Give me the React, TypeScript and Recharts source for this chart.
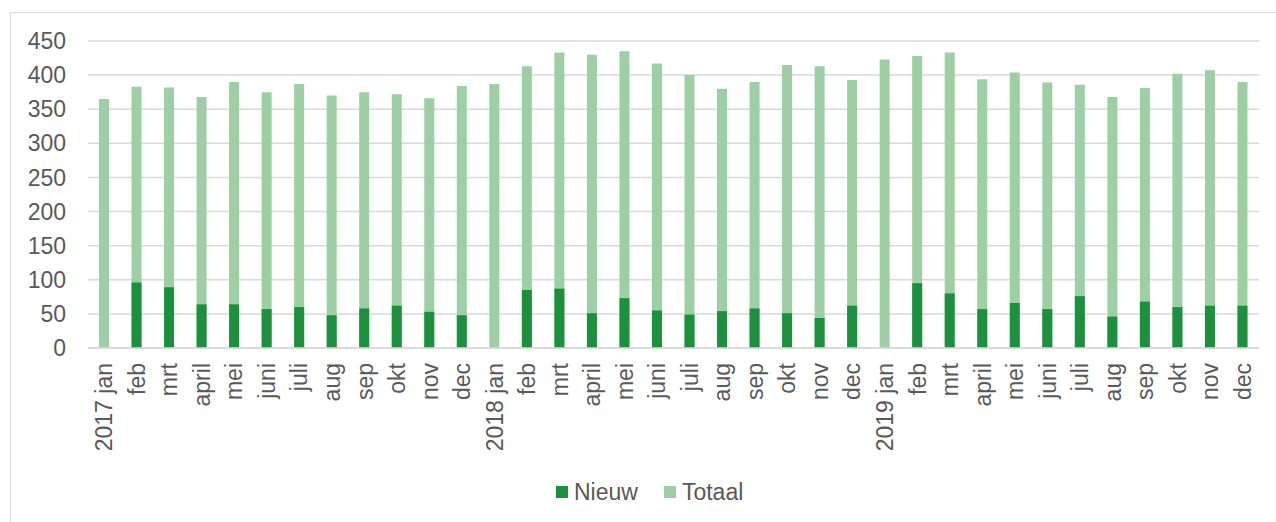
import { Bar, BarChart, CartesianGrid, Legend, XAxis, YAxis } from 'recharts';

// maandlabels, januari krijgt het jaartal ervoor
const months = [
    '2017 jan', 'feb', 'mrt', 'april', 'mei', 'juni', 'juli', 'aug', 'sep', 'okt', 'nov', 'dec',
    '2018 jan', 'feb', 'mrt', 'april', 'mei', 'juni', 'juli', 'aug', 'sep', 'okt', 'nov', 'dec',
    '2019 jan', 'feb', 'mrt', 'april', 'mei', 'juni', 'juli', 'aug', 'sep', 'okt', 'nov', 'dec',
];

const totaal = [
    365, 383, 382, 368, 390, 375, 387, 370, 375, 372, 366, 384,
    387, 413, 433, 430, 435, 417, 400, 380, 390, 415, 413, 393,
    423, 428, 433, 394, 404, 389, 386, 368, 381, 402, 407, 390,
];

const nieuw = [
    0, 96, 89, 64, 64, 57, 60, 48, 58, 62, 53, 48,
    0, 85, 87, 51, 73, 55, 49, 54, 58, 51, 44, 62,
    0, 95, 80, 57, 66, 57, 76, 46, 68, 60, 62, 62,
];

const yTicks = [0, 50, 100, 150, 200, 250, 300, 350, 400, 450];

const NIEUW_COLOR = '#1a923c';
const TOTAAL_COLOR = '#9ccfa3';
const TEXT_COLOR = '#595959';
const FONT = '"Liberation Sans", Arial, sans-serif';
const FONT_SIZE = 23;

const data = months.map((month, i) => ({ month, key: i, totaal: totaal[i], nieuw: nieuw[i] }));

function MonthTick({ x, y, payload }: any) {
    return (
        <g transform={`translate(${x},${y})`}>
            <text
                transform="rotate(-90)"
                textAnchor="end"
                dy="0.35em"
                fill={TEXT_COLOR}
                fontSize={FONT_SIZE}
                fontFamily={FONT}
            >
                {months[payload.value]}
            </text>
        </g>
    );
}

function ChartLegend() {
    const items = [
        { name: 'Nieuw', color: NIEUW_COLOR },
        { name: 'Totaal', color: TOTAAL_COLOR },
    ];
    return (
        <div style={{ display: 'flex', alignItems: 'center', paddingLeft: 556, fontFamily: FONT, fontSize: FONT_SIZE, color: TEXT_COLOR, lineHeight: '26px' }}>
            {items.map((item) => (
                <div key={item.name} style={{ display: 'flex', alignItems: 'center', marginRight: 26 }}>
                    <span style={{ width: 12, height: 12, background: item.color, marginRight: 6, display: 'inline-block' }} />
                    <span>{item.name}</span>
                </div>
            ))}
        </div>
    );
}

export default function App() {
    return (
        <div style={{ position: 'absolute', left: 0, top: 0, width: 1276, height: 522, overflow: 'hidden', background: '#fff' }}>
            <div
                style={{
                    position: 'absolute',
                    left: 10,
                    top: 12,
                    width: 1300,
                    height: 540,
                    border: '1.5px solid #d9d9d9',
                }}
            />
            <div style={{ position: 'absolute', left: 0, top: 0 }}>
                <BarChart
                    width={1276}
                    height={522}
                    data={data}
                    margin={{ top: 41, right: 17, left: 0, bottom: 0 }}
                    barSize={10}
                    barGap={-10}
                >
                    <CartesianGrid vertical={false} stroke="#d9d9d9" strokeWidth={1.5} />
                    <XAxis
                        dataKey="key"
                        height={174}
                        interval={0}
                        tickLine={false}
                        tickSize={0}
                        tickMargin={15}
                        axisLine={{ stroke: '#d9d9d9', strokeWidth: 1.5 }}
                        tick={<MonthTick />}
                    />
                    <YAxis
                        width={88}
                        domain={[0, 450]}
                        ticks={yTicks}
                        axisLine={false}
                        tickLine={false}
                        tickMargin={16}
                        tick={{ fill: TEXT_COLOR, fontSize: FONT_SIZE, fontFamily: FONT }}
                    />
                    <Legend
                        verticalAlign="middle"
                        content={<ChartLegend />}
                        wrapperStyle={{ left: 0, top: 479, width: 1276 }}
                    />
                    <Bar dataKey="totaal" name="Totaal" fill={TOTAAL_COLOR} isAnimationActive={false} />
                    <Bar dataKey="nieuw" name="Nieuw" fill={NIEUW_COLOR} isAnimationActive={false} />
                </BarChart>
            </div>
        </div>
    );
}
